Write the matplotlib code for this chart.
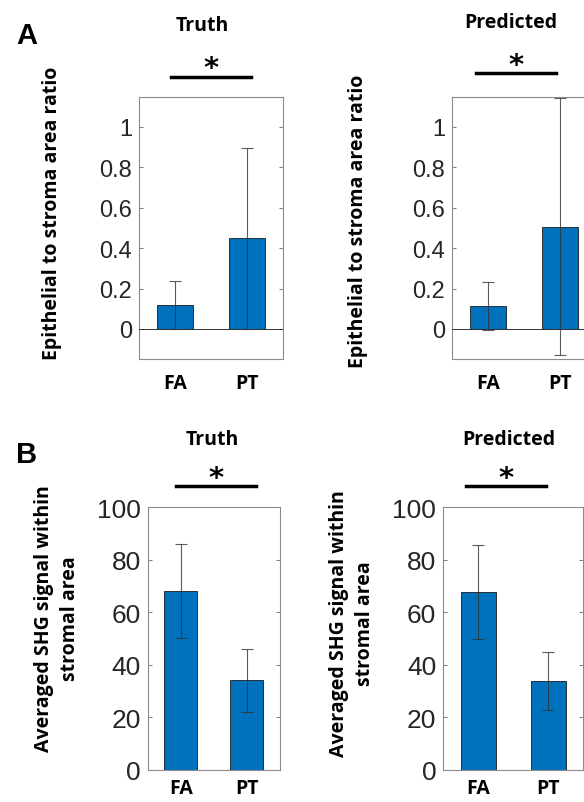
import numpy as np
import matplotlib
matplotlib.use("Agg")
import matplotlib.pyplot as plt
from matplotlib.lines import Line2D

# data
groups = ["FA", "PT"]
ratio_truth = [0.118, 0.449]
ratio_truth_err = [0.118, 0.449]
ratio_pred = [0.112, 0.506]
ratio_pred_err = [0.119, 0.635]
shg_truth = [68.0, 34.1]
shg_truth_err = [17.9, 12.0]
shg_pred = [67.9, 33.9]
shg_pred_err = [17.9, 11.2]

W, H = 584, 803
fig = plt.figure(figsize=(W / 100, H / 100), dpi=100)

blue = "#0072BD"
tick_col = "#262626"
bold_font = ["Open Sans", "DejaVu Sans"]
num_font = ["Liberation Sans", "DejaVu Sans"]


def fx(px):
    return px / W


def fy(py):
    return 1 - py / H


def panel(x0, x1, y0, y1, vals, errs, ylim, yticks, yticklabels, tsize, xpad):
    ax = fig.add_axes([fx(x0), fy(y1), fx(x1 - x0), (y1 - y0) / H])
    x = np.arange(1, len(vals) + 1)
    ax.bar(x, vals, width=0.5, color=blue, edgecolor="#1a1a1a", linewidth=0.6, zorder=2)
    ax.errorbar(x, vals, yerr=errs, fmt="none", ecolor="#333333", elinewidth=0.8,
                capsize=4, capthick=0.8, alpha=0.8, zorder=3)
    ax.axhline(0, color="#333333", linewidth=0.7, zorder=4)
    ax.set_xlim(0.5, 2.5)
    ax.set_ylim(*ylim)
    ax.set_yticks(yticks)
    ax.set_yticklabels(yticklabels, fontfamily=num_font, fontsize=tsize, color=tick_col)
    ax.set_xticks(x)
    ax.set_xticklabels(groups, fontfamily=bold_font, fontweight="bold", fontsize=14)
    ax.tick_params(axis="y", direction="in", right=True, length=3, width=0.6,
                   color="#666666", pad=5)
    ax.tick_params(axis="x", direction="in", length=0, pad=xpad)
    for s in ax.spines.values():
        s.set_color("#8c8c8c")
        s.set_linewidth(0.8)
    return ax


def sig(xa, xb, y, ya):
    fig.add_artist(Line2D([fx(xa), fx(xb)], [fy(y), fy(y)], color="black", linewidth=2.5))
    fig.text(fx((xa + xb) / 2), fy(ya), "*", ha="center", va="center",
             fontsize=21, fontweight="bold", fontfamily=["DejaVu Sans"])


def title(xc, y, s):
    fig.text(fx(xc), fy(y), s, ha="center", va="center", fontsize=14,
             fontweight="bold", fontfamily=bold_font)


# Panel A
ratio_ticks = [0, 0.2, 0.4, 0.6, 0.8, 1]
ratio_labels = ["0", "0.2", "0.4", "0.6", "0.8", "1"]
panel(139, 283, 98, 360, ratio_truth, ratio_truth_err, (-0.149, 1.148), ratio_ticks, ratio_labels, 17, 10)
panel(452, 596, 98, 360, ratio_pred, ratio_pred_err, (-0.149, 1.148), ratio_ticks, ratio_labels, 17, 10)

# Panel B
shg_ticks = [0, 20, 40, 60, 80, 100]
shg_labels = [str(t) for t in shg_ticks]
panel(147.7, 280, 508.3, 771, shg_truth, shg_truth_err, (0, 100), shg_ticks, shg_labels, 19, 6)
panel(443.3, 583.3, 508.3, 771, shg_pred, shg_pred_err, (0, 100), shg_ticks, shg_labels, 19, 6)

# titles, significance bars
title(202, 26, "Truth")
title(511, 23, "Predicted")
title(212, 440, "Truth")
title(509, 440, "Predicted")
sig(171, 251, 78, 69)
sig(476, 556, 74, 66)
sig(176, 256, 487, 479)
sig(466, 546, 487, 479)

# y labels
fig.text(fx(52), fy(213), "Epithelial to stroma area ratio", rotation=90, ha="center",
         va="center", fontsize=14, fontweight="bold", fontfamily=bold_font)
fig.text(fx(358), fy(221), "Epithelial to stroma area ratio", rotation=90, ha="center",
         va="center", fontsize=14, fontweight="bold", fontfamily=bold_font)
fig.text(fx(57), fy(619), "Averaged SHG signal within\nstromal area", rotation=90,
         ha="center", va="center", fontsize=14, fontweight="bold", fontfamily=bold_font,
         linespacing=1.35)
fig.text(fx(352), fy(624), "Averaged SHG signal within\nstromal area", rotation=90,
         ha="center", va="center", fontsize=14, fontweight="bold", fontfamily=bold_font,
         linespacing=1.35)

# panel letters
fig.text(fx(27), fy(36), "A", ha="center", va="center", fontsize=21, fontweight="bold",
         fontfamily=num_font)
fig.text(fx(27), fy(455), "B", ha="center", va="center", fontsize=21, fontweight="bold",
         fontfamily=num_font)

fig.savefig("out.png", dpi=100)
